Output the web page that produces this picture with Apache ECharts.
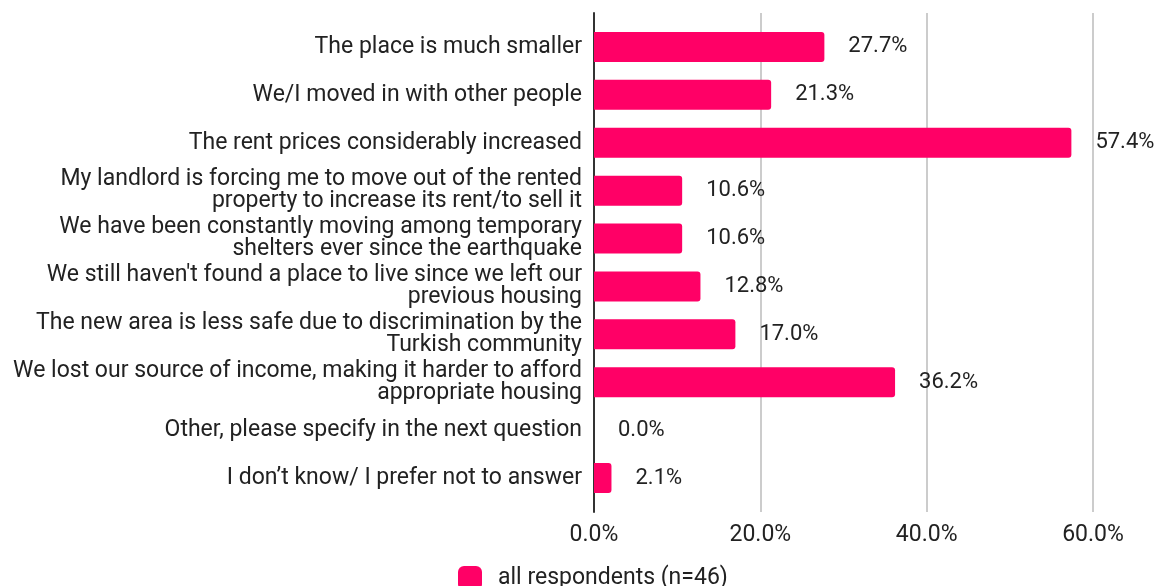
<!DOCTYPE html>
<html>
<head>
<meta charset="utf-8">
<script src="https://cdn.jsdelivr.net/npm/echarts@6/dist/echarts.min.js"></script>
<style>
  html, body { margin: 0; padding: 0; background: #fff; }
  #chart { width: 1157px; height: 586px; }
</style>
</head>
<body>
<div id="chart"></div>
<script>
const categories = [
  'The place is much smaller',
  'We/I moved in with other people',
  'The rent prices considerably increased',
  'My landlord is forcing me to move out of the rented\nproperty to increase its rent/to sell it',
  'We have been constantly moving among temporary\nshelters ever since the earthquake',
  "We still haven't found a place to live since we left our\nprevious housing",
  'The new area is less safe due to discrimination by the\nTurkish community',
  'We lost our source of income, making it harder to afford\nappropriate housing',
  'Other, please specify in the next question',
  'I don\u2019t know/ I prefer not to answer'
];
const values = [27.7, 21.3, 57.4, 10.6, 10.6, 12.8, 17.0, 36.2, 0.0, 2.1];
const seriesName = 'all respondents (n=46)';
const xTicks = [0, 20, 40, 60];

const FONT = 'Roboto';
const PINK = '#ff0066';
const TEXT = '#222222';

const getOption = () => {
  return {
    animation: false,
    textStyle: { fontFamily: FONT },
    legend: {
      left: 458,
      top: 566,
      padding: 0,
      itemWidth: 24,
      itemHeight: 24,
      icon: 'roundRect',
      data: [seriesName],
      textStyle: { fontFamily: FONT, fontSize: 23, color: TEXT, padding: [0, 0, 0, 11] }
    },
    grid: [
      { left: 594, right: 64, top: 23, bottom: 84 },
      { left: 594, right: 64, top: 13, bottom: 74 }
    ],
    xAxis: [
      {
        gridIndex: 0,
        type: 'value',
        min: xTicks[0],
        max: xTicks[xTicks.length - 1],
        interval: 20,
        axisLine: { show: false },
        axisTick: { show: false },
        axisLabel: { show: false },
        splitLine: { show: false }
      },
      {
        gridIndex: 1,
        type: 'value',
        min: xTicks[0],
        max: xTicks[xTicks.length - 1],
        interval: 20,
        axisLine: { show: false },
        axisTick: { show: false },
        axisLabel: {
          margin: 12,
          fontFamily: FONT,
          fontSize: 23,
          color: TEXT,
          formatter: (v) => v.toFixed(1) + '%'
        },
        splitLine: { lineStyle: { color: '#cccccc', width: 2 } }
      }
    ],
    yAxis: [
      {
        gridIndex: 0,
        type: 'category',
        inverse: true,
        data: categories,
        axisLine: { show: false },
        axisTick: { show: false },
        axisLabel: {
          margin: 12,
          fontFamily: FONT,
          fontSize: 23,
          lineHeight: 22,
          color: TEXT,
          align: 'right'
        }
      },
      {
        gridIndex: 1,
        type: 'category',
        data: [''],
        axisLine: { show: true, lineStyle: { color: '#333333', width: 2 } },
        axisTick: { show: false },
        axisLabel: { show: false }
      }
    ],
    series: [
      {
        name: seriesName,
        type: 'bar',
        xAxisIndex: 0,
        yAxisIndex: 0,
        data: values,
        barWidth: 30,
        itemStyle: { color: PINK, borderRadius: [0, 3, 3, 0] },
        label: {
          show: true,
          position: 'right',
          distance: 24,
          fontFamily: FONT,
          fontSize: 22,
          color: TEXT,
          formatter: (p) => p.value.toFixed(1) + '%'
        },
        z: 3
      }
    ]
  };
};

const initCharts = () => {
  const chart = echarts.init(document.getElementById('chart'));
  chart.setOption(getOption());
};

window.addEventListener('load', () => {
  initCharts();
});
</script>
</body>
</html>
